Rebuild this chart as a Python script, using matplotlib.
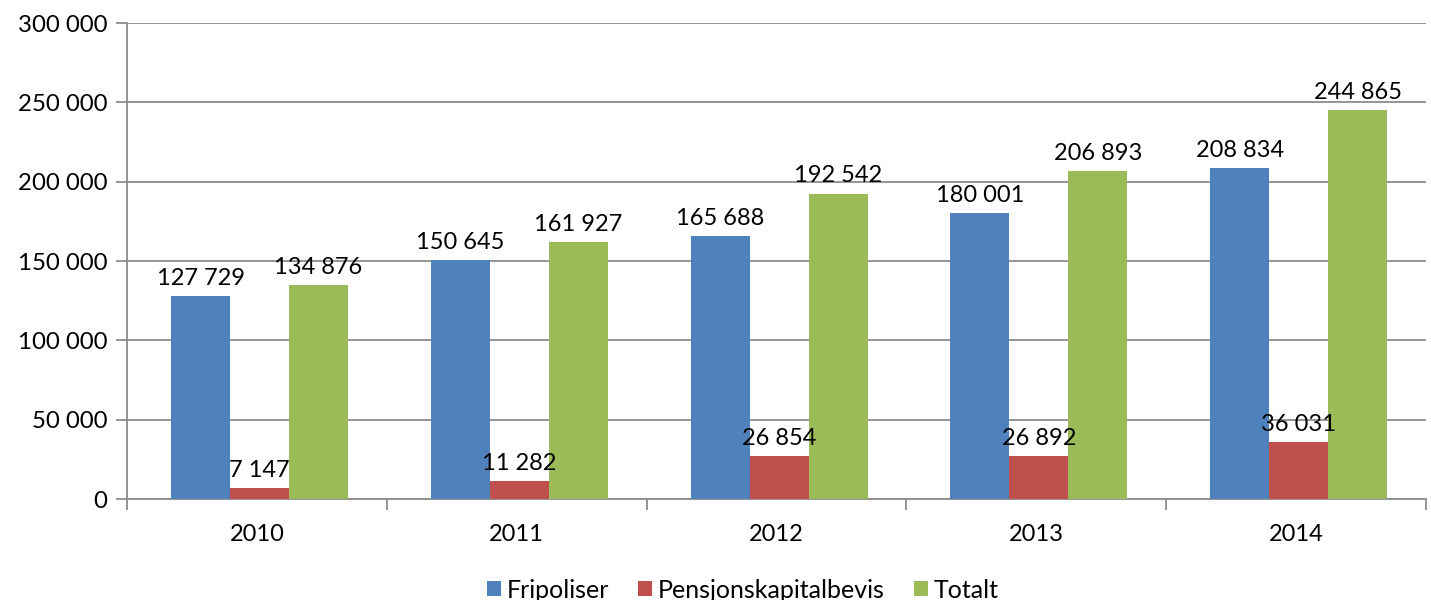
import matplotlib
matplotlib.use("Agg")
import matplotlib.pyplot as plt
import numpy as np
from matplotlib.ticker import FuncFormatter, MultipleLocator

years = ["2010", "2011", "2012", "2013", "2014"]
fripoliser = [127729, 150645, 165688, 180001, 208834]
pensjon = [7147, 11282, 26854, 26892, 36031]
totalt = [134876, 161927, 192542, 206893, 244865]
series_names = ["Fripoliser", "Pensjonskapitalbevis", "Totalt"]
colors = ["#4f81bd", "#c0504d", "#9bbb59"]

plt.rcParams['font.family'] = ['Lato', 'DejaVu Sans']
FS = 17

fig = plt.figure(figsize=(14.31, 6.0), dpi=100)
ax = fig.add_axes([127/1431, 1-499/600, (1426-127)/1431, (499-23)/600])

x = np.arange(len(years))
w = 0.227
def fmt(v):
    return f"{int(v):,}".replace(",", " ")

for i, (vals, name, c) in enumerate(zip([fripoliser, pensjon, totalt], series_names, colors)):
    pos = x + 0.01 + (i - 1) * w
    ax.bar(pos, vals, width=w, color=c, label=name, zorder=3)
    for p, v in zip(pos, vals):
        ax.text(p, v + 4500, fmt(v), ha="center", va="bottom", fontsize=FS, color="black", zorder=4)

ax.set_xlim(-0.5, len(years) - 0.5)
ax.set_ylim(0, 300000)
ax.yaxis.set_major_locator(MultipleLocator(50000))
ax.yaxis.set_major_formatter(FuncFormatter(lambda v, p: fmt(v)))
ax.grid(axis="y", color="#8c8c8c", linewidth=1.3, zorder=0)
ax.set_axisbelow(True)

ax.set_xticks(x)
ax.set_xticklabels(years, fontsize=FS)
ax.set_xticks(np.arange(-0.5, len(years)), minor=True)
ax.tick_params(axis="x", which="major", length=0, pad=18)
ax.tick_params(axis="x", which="minor", length=8, width=1.3, color="#8c8c8c")
ax.tick_params(axis="y", length=8, width=1.3, color="#8c8c8c", labelsize=FS + 0.3, pad=6)

for s in ["top", "right"]:
    ax.spines[s].set_visible(False)
for s in ["left", "bottom"]:
    ax.spines[s].set_color("#8c8c8c")
    ax.spines[s].set_linewidth(1.3)

fig.legend(loc="lower center", bbox_to_anchor=(743/1431, -0.04), ncol=3, frameon=False,
           fontsize=FS + 1, handlelength=0.55, handleheight=0.55, columnspacing=1.15, handletextpad=0.25)

fig.savefig("out.png", dpi=100)
